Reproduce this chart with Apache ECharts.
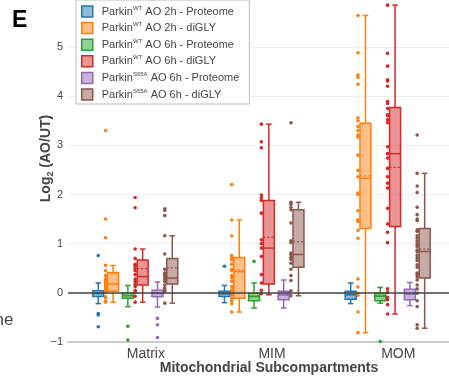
<!DOCTYPE html>
<html><head><meta charset="utf-8">
<script src="https://cdn.jsdelivr.net/npm/echarts@6/dist/echarts.min.js"></script>
<style>html,body{margin:0;padding:0;background:#fff}#c{width:449px;height:377px}</style>
</head><body><div id="c"></div>
<script>
// ---- data ----
const categories = ['Matrix', 'MIM', 'MOM'];
const seriesNames = [
  'ParkinWT AO 2h - Proteome', 'ParkinWT AO 2h - diGLY',
  'ParkinWT AO 6h - Proteome', 'ParkinWT AO 6h - diGLY',
  'ParkinS65A AO 6h - Proteome', 'ParkinS65A AO 6h - diGLY'
];
const nameSup = ['WT', 'WT', 'WT', 'WT', 'S65A', 'S65A'];
const nameRest = [' AO 2h - Proteome', ' AO 2h - diGLY', ' AO 6h - Proteome', ' AO 6h - diGLY', ' AO 6h - Proteome', ' AO 6h - diGLY'];
const isDiGly = [false, true, false, true, false, true];

// box stats per category: [lowerWhisker, q1, median, q3, upperWhisker, mean]
const wt2hProtBox = [[-0.22, -0.075, -0.01, 0.04, 0.20, -0.02], [-0.20, -0.075, -0.02, 0.03, 0.15, -0.02], [-0.22, -0.13, -0.04, 0.03, 0.20, -0.04]];
const wt2hGlyBox  = [[-0.19, 0.03, 0.18, 0.41, 0.555, 0.42], [-0.39, -0.11, 0.43, 0.72, 1.48, 0.47], [-0.81, 1.31, 2.33, 3.45, 5.64, 2.38]];
const wt6hProtBox = [[-0.28, -0.11, -0.06, -0.01, 0.15, -0.05], [-0.31, -0.16, -0.075, -0.01, 0.20, -0.06], [-0.21, -0.16, -0.07, -0.01, 0.11, -0.05]];
const wt6hGlyBox  = [[-0.19, 0.16, 0.33, 0.67, 0.89, 0.49], [-0.04, 0.18, 0.91, 1.88, 3.43, 1.13], [-0.43, 1.35, 2.83, 3.77, 5.85, 2.55]];
const s65ProtBox  = [[-0.29, -0.08, 0.0, 0.05, 0.22, -0.02], [-0.31, -0.14, -0.04, 0.03, 0.26, -0.05], [-0.26, -0.14, -0.02, 0.075, 0.21, -0.03]];
const s65GlyBox   = [[-0.21, 0.18, 0.30, 0.70, 1.16, 0.51], [-0.06, 0.52, 0.78, 1.69, 1.84, 1.04], [-0.72, 0.30, 0.84, 1.31, 2.43, 0.89]];

// individual points per category
const wt2hProtPts = [[0.76, -0.42, -0.45, -0.69], [0.54], []];
const wt2hGlyPts = [
  [3.3, 1.5, 1.12, 0.56, 0.45, 0.35, 0.28, 0.24, 0.2, 0.16, 0.13, 0.09, 0.05, 0.01, -0.08, -0.1, -0.17, -0.19],
  [2.2, 1.48, 1.16, 0.76, 0.72, 0.67, 0.58, 0.48, 0.45, 0.35, 0.3, 0.23, 0.13, 0.06, 0.01, -0.04, -0.11, -0.16, -0.22, -0.39],
  [5.64, 4.88, 4.43, 4.38, 4.24, 3.56, 3.5, 3.38, 3.3, 3.21, 3.17, 2.8, 2.49, 2.36, 2.03, 2.0, 1.67, 1.48, 1.45, 1.27, 1.11, 0.28, 0.12, -0.01, -0.05, -0.39, -0.81]
];
const wt6hProtPts = [[-0.68, -0.96], [0.64], [-0.99]];
const wt6hGlyPts = [
  [1.94, 1.73, 0.89, 0.70, 0.58, 0.55, 0.50, 0.45, 0.37, 0.28, 0.23, 0.17, 0.13, 0.05, 0.01, -0.07, -0.19],
  [3.43, 3.07, 2.95, 1.99, 1.94, 1.88, 1.62, 1.08, 1.0, 0.91, 0.74, 0.37, 0.2, 0.05, -0.02],
  [5.85, 4.87, 4.61, 4.33, 4.31, 4.2, 3.89, 3.85, 3.75, 3.62, 3.6, 3.52, 3.46, 2.97, 2.83, 2.74, 2.53, 2.36, 2.23, 2.13, 1.72, 1.4, 1.23, 1.02, 0.08, 0.01, -0.09, -0.14, -0.24, -0.43]
];
const s65ProtPts = [[-0.52, -0.65, -0.91], [], []];
const s65GlyPts = [
  [1.71, 1.68, 1.57, 1.16, 0.79, 0.48, 0.4, 0.37, 0.33, 0.28, 0.23, 0.16, 0.1, 0.06, 0.02, -0.21],
  [3.46, 1.84, 1.8, 1.74, 1.69, 1.42, 1.06, 1.02, 0.81, 0.78, 0.72, 0.68, 0.6, 0.48, 0.35, 0.25, 0.04, -0.06],
  [3.21, 2.43, 2.17, 2.04, 1.74, 1.59, 1.5, 1.47, 1.28, 1.25, 1.16, 1.11, 1.05, 0.99, 0.94, 0.87, 0.84, 0.77, 0.72, 0.66, 0.57, 0.52, 0.4, 0.37, 0.32, 0.26, 0.16, 0.08, -0.01, -0.16, -0.28, -0.65, -0.72]
];
const yTicks = [-1, 0, 1, 2, 3, 4, 5];

// ---- styling / layout ----
const boxes = [wt2hProtBox, wt2hGlyBox, wt6hProtBox, wt6hGlyBox, s65ProtBox, s65GlyBox];
const points = [wt2hProtPts, wt2hGlyPts, wt6hProtPts, wt6hGlyPts, s65ProtPts, s65GlyPts];
const colors = ['#1f77b4', '#ff7f0e', '#2ca02c', '#d62728', '#9467bd', '#8c564b'];
const fills = ['rgba(31,119,180,0.5)', 'rgba(255,127,14,0.5)', 'rgba(44,160,44,0.5)', 'rgba(214,39,40,0.5)', 'rgba(148,103,189,0.5)', 'rgba(140,86,75,0.5)'];
const FONT = '"Liberation Sans", Arial, Helvetica, sans-serif';
const PX_PER_UNIT = 126.2;
const STEP = 14.8 / PX_PER_UNIT;
const offsets = [-2.5, -1.5, -0.5, 0.5, 1.5, 2.5].map(k => k * STEP);
const PT_SHIFT = -7.5 / PX_PER_UNIT;
const LABEL_SHIFT = 10.6 / PX_PER_UNIT;
const BOX_W = 11;

function makeRender(i) {
  const color = colors[i], fill = fills[i];
  return function (params, api) {
    const x = api.value(0) + offsets[i];
    const p = k => api.coord([x, api.value(k)]);
    const lo = p(1), q1 = p(2), med = p(3), q3 = p(4), hi = p(5), mean = p(6);
    const cx = lo[0], hw = BOX_W / 2, cw = BOX_W / 4;
    const ln = (x1, y1, x2, y2, w, dash) => ({
      type: 'line', shape: { x1, y1, x2, y2 },
      style: { stroke: color, lineWidth: w, lineDash: dash || null }
    });
    return {
      type: 'group', children: [
        ln(cx, hi[1], cx, q3[1], 1.5), ln(cx, q1[1], cx, lo[1], 1.5),
        ln(cx - cw, hi[1], cx + cw, hi[1], 1.5), ln(cx - cw, lo[1], cx + cw, lo[1], 1.5),
        { type: 'rect', shape: { x: cx - hw, y: q3[1], width: BOX_W, height: q1[1] - q3[1] },
          style: { fill: fill, stroke: color, lineWidth: 1.5 } },
        ln(cx - hw, med[1], cx + hw, med[1], 1.5),
        ln(cx - hw, mean[1], cx + hw, mean[1], 1.2, [2, 2])
      ]
    };
  };
}

const series = [];
for (let i = 0; i < 6; i++) {
  series.push({
    type: 'custom', name: seriesNames[i], renderItem: makeRender(i),
    itemStyle: { color: colors[i] },
    data: boxes[i].map((b, c) => [c].concat(b)), z: 2
  });
  const pts = [];
  points[i].forEach((arr, c) => arr.forEach(v => pts.push([c + offsets[i] + (isDiGly[i] ? PT_SHIFT : 0), v])));
  const s = {
    type: 'scatter', name: seriesNames[i], data: pts, symbol: 'circle', symbolSize: 3.6,
    itemStyle: { color: colors[i], opacity: 1 }, z: 3, silent: true
  };
  if (i === 0) {
    s.markLine = {
      silent: true, symbol: ['none', 'none'], label: { show: false },
      lineStyle: { color: '#444', width: 1.5, type: 'solid' },
      data: [{ yAxis: 0 }]
    };
  }
  series.push(s);
}

const chart = echarts.init(document.getElementById('c'));
chart.setOption({
  animation: false,
  textStyle: { fontFamily: FONT },
  grid: { left: 68, right: 0, top: 0, bottom: 35 },
  xAxis: {
    type: 'value', min: -0.533, max: 2.486,
    splitLine: { show: false },
    axisTick: { show: false },
    axisLine: { onZero: false, lineStyle: { color: '#ccc', width: 2 } },
    axisLabel: {
      customValues: categories.map((c, k) => k + LABEL_SHIFT),
      formatter: v => categories[Math.round(v)],
      color: '#444', fontSize: 14, margin: 5, fontFamily: FONT
    }
  },
  yAxis: {
    type: 'value', min: -1, max: 5.955, interval: 1,
    axisLine: { show: false }, axisTick: { show: false },
    splitLine: { lineStyle: { color: '#eee', width: 1 }, showMaxLine: false },
    axisLabel: {
      color: '#444', fontSize: 11, margin: 5, fontFamily: FONT,
      customValues: yTicks,
      formatter: v => (v < 0 ? '\u2212' + Math.abs(v) : String(v))
    }
  },
  legend: {
    orient: 'vertical', left: 76, top: 0,
    padding: [5, 10, 3, 5], itemGap: 3.6, itemWidth: 11, itemHeight: 11,
    borderColor: '#bbb', borderWidth: 1, backgroundColor: '#fff',
    data: seriesNames.map((n, i) => ({
      name: n, icon: 'rect',
      itemStyle: { color: fills[i], borderColor: colors[i], borderWidth: 1.5 }
    })),
    formatter: name => {
      const i = seriesNames.indexOf(name);
      return '{p|Parkin}{s|' + nameSup[i] + '}{a|' + nameRest[i] + '}';
    },
    textStyle: {
      color: '#444', fontFamily: FONT, fontSize: 11, lineHeight: 13,
      rich: {
        p: { fontSize: 11, color: '#444', padding: [0, 0, 0, 4], lineHeight: 13 },
        s: { fontSize: 6, color: '#444', verticalAlign: 'top', lineHeight: 13 },
        a: { fontSize: 11, color: '#444', lineHeight: 13 }
      }
    }
  },
  graphic: [
    { type: 'text', left: 12, top: 9, style: { text: 'E', font: 'bold 23px ' + FONT, fill: '#000' } },
    { type: 'text', x: 13.5, y: 320, style: { text: 'ne', font: '17px ' + FONT, fill: '#444', align: 'right', verticalAlign: 'middle' } },
    { type: 'text', x: 269, y: 368, style: { text: 'Mitochondrial Subcompartments', font: 'bold 14px ' + FONT, fill: '#444', align: 'center', verticalAlign: 'middle' } },
    { type: 'text', x: 46, y: 158.5, rotation: Math.PI / 2,
      style: {
        text: '{a|Log}{b|2}{a| (AO/UT)}', align: 'center', verticalAlign: 'middle',
        rich: {
          a: { font: 'bold 14px ' + FONT, fill: '#444', lineHeight: 18 },
          b: { font: 'bold 9px ' + FONT, fill: '#444', verticalAlign: 'bottom', lineHeight: 18 }
        }
      } }
  ],
  series: series
});
</script>
</body></html>
